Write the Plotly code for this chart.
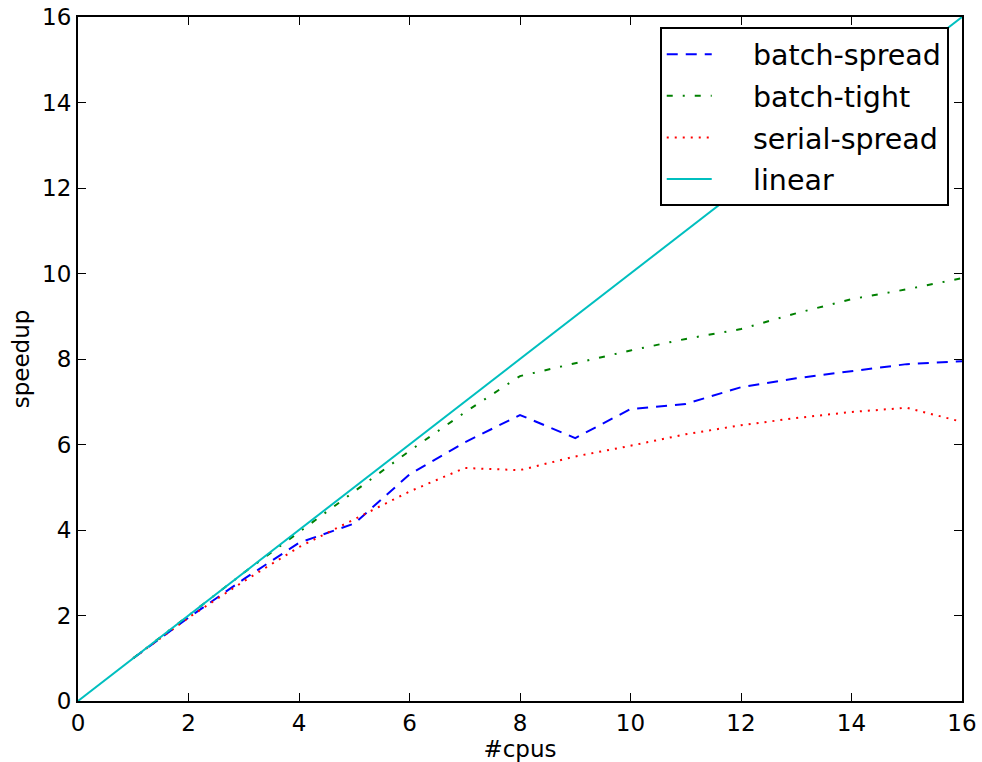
import plotly.graph_objects as go

cpus = list(range(1, 17))
batch_spread = [1.0, 1.95, 2.85, 3.7, 4.15, 5.3, 6.05, 6.69, 6.15, 6.83, 6.95, 7.34, 7.55, 7.72, 7.88, 7.95]
batch_tight = [1.0, 2.0, 3.0, 3.95, 4.9, 5.85, 6.75, 7.6, 7.9, 8.2, 8.47, 8.7, 9.07, 9.4, 9.63, 9.89]
serial_spread = [1.0, 1.95, 2.8, 3.6, 4.25, 4.9, 5.45, 5.4, 5.72, 5.97, 6.24, 6.45, 6.62, 6.76, 6.86, 6.53]
linear_x = [0, 16]
linear_y = [0, 16]
series_names = ["batch-spread", "batch-tight", "serial-spread", "linear"]

x_ticks = [0, 2, 4, 6, 8, 10, 12, 14, 16]
y_ticks = [0, 2, 4, 6, 8, 10, 12, 14, 16]

pad = "\u00a0" * 4

fig = go.Figure()
fig.add_trace(go.Scatter(x=cpus, y=batch_spread, mode="lines", name=pad + series_names[0], legendgroup="a",
                         line=dict(color="#0000ff", width=2, dash="11px,8px")))
fig.add_trace(go.Scatter(x=cpus, y=batch_tight, mode="lines", name=pad + series_names[1], legendgroup="b",
                         line=dict(color="#008000", width=2, dash="6px,10px,2px,10px")))
fig.add_trace(go.Scatter(x=cpus, y=serial_spread, mode="lines", name=pad + series_names[2], legendgroup="c",
                         line=dict(color="#ff0000", width=2, dash="2px,6px")))
fig.add_trace(go.Scatter(x=linear_x, y=linear_y, mode="lines", name=pad + series_names[3], legendgroup="d",
                         line=dict(color="#00bfbf", width=2)))

tickfont = dict(size=23, color="black", family="DejaVu Sans")
axis_common = dict(
    showgrid=False, zeroline=False, showline=True, linecolor="black", linewidth=2,
    mirror="ticks", ticks="inside", ticklen=8, tickwidth=1, tickcolor="black",
    tickfont=tickfont, automargin=False, ticklabeloverflow="allow",
)

fig.update_xaxes(range=[0, 16], tickvals=x_ticks, ticktext=[str(v) for v in x_ticks],
                 title=dict(text="#cpus", font=tickfont, standoff=2),
                 **axis_common)
fig.update_yaxes(range=[0, 16], tickvals=y_ticks, ticktext=[str(v) for v in y_ticks],
                 title=dict(text="speedup", font=tickfont, standoff=6),
                 **axis_common)

fig.update_layout(
    width=982, height=762,
    margin=dict(l=78, r=20, t=17, b=61),
    plot_bgcolor="white", paper_bgcolor="white",
    font=dict(family="DejaVu Sans", color="black"),
    legend=dict(x=0.985, y=0.985, xanchor="right", yanchor="top",
                bgcolor="white", bordercolor="black", borderwidth=2,
                font=dict(size=28.5, color="black", family="DejaVu Sans"),
                itemwidth=45, tracegroupgap=1.5),
)

# remove the default 8px page margin so the figure fills the window exactly
fig.write_html("out.html",
               config={"displayModeBar": False},
               post_script="document.body.style.margin='0';document.body.style.overflow='hidden';")
